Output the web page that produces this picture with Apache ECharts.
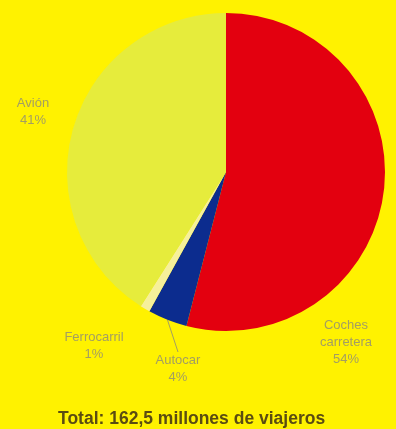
<!DOCTYPE html>
<html>
<head>
<meta charset="utf-8">
<script src="https://cdn.jsdelivr.net/npm/echarts@6/dist/echarts.min.js"></script>
<style>
  html,body{margin:0;padding:0;background:#fff200;}
  #chart{width:396px;height:429px;}
</style>
</head>
<body>
<div id="chart"></div>
<script>
var categories = ['Coches\ncarretera', 'Autocar', 'Ferrocarril', 'Avión'];
var values = [54, 4, 1, 41];
var sliceColors = ['#e3000f', '#0c2c8e', '#f6f09a', '#e6ec3c'];
// label anchor points (px), same order as categories
var labelPos = [[346, 342], [178, 369], [94, 346], [33, 112]];

var chart = echarts.init(document.getElementById('chart'));
chart.setOption({
  backgroundColor: '#fff200',
  animation: false,
  title: {
    text: 'Total: 162,5 millones de viajeros',
    left: 53,
    top: 405,
    textStyle: {
      fontFamily: 'Liberation Sans',
      fontSize: 17.5,
      fontWeight: 'bold',
      color: '#5a4c12'
    }
  },
  series: [{
    type: 'pie',
    center: [226, 172],
    radius: [0, 159],
    startAngle: 90,
    clockwise: true,
    avoidLabelOverlap: false,
    data: categories.map(function (c, i) {
      return {
        name: c,
        value: values[i],
        itemStyle: { color: sliceColors[i] },
        labelLine: { show: i === 1 }
      };
    }),
    label: {
      show: true,
      position: 'outside',
      formatter: '{b}\n{c}%',
      fontFamily: 'Liberation Sans',
      fontSize: 13,
      lineHeight: 17,
      color: '#a39e62',
      align: 'center'
    },
    labelLine: {
      length: 8,
      length2: 0,
      lineStyle: { color: '#a39e62', width: 1 }
    },
    labelLayout: function (p) {
      var pos = labelPos[p.dataIndex];
      return {
        x: pos[0],
        y: pos[1],
        align: 'center',
        verticalAlign: 'middle',
        hideOverlap: false
      };
    }
  }]
});
</script>
</body>
</html>
